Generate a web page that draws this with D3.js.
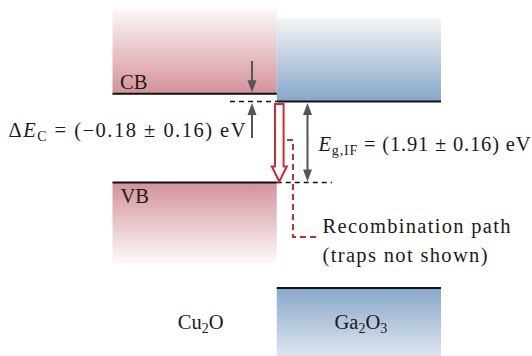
<!DOCTYPE html>
<html>
<head>
<meta charset="utf-8">
<script src="https://cdn.jsdelivr.net/npm/d3@7"></script>
<style>
  body { margin: 0; background: #fff; }
  text { font-family: "Liberation Serif", "Times New Roman", serif; fill: #1a1a1a; }
</style>
</head>
<body>
<div id="chart"></div>
<script>
// band edges in eV, relative to the Ga2O3 conduction band at the interface
var materials = ["Cu2O", "Ga2O3"];
var cbEdge = [0.18, 0];
var vbEdge = [-1.91, -4.40];
// how far the shaded blocks reach (schematic)
var cbTop = [2.17, 1.96];
var vbBottom = [-3.81, -6.3];
var bandNames = ["CB", "VB"];
var offsetLabel = ["(−0.18 ± 0.16) eV"];
var gapLabel = ["(1.91 ± 0.16) eV"];
var pathLabel = ["Recombination path", "(traps not shown)"];

var svgWidth = 532;
var svgHeight = 356;

var svg = d3.select("#chart")
  .append("svg")
  .attr("width", svgWidth)
  .attr("height", svgHeight);

// scales
var x = d3.scaleBand()
  .domain(materials)
  .range([112.5, 441])
  .padding(0);

var y = d3.scaleLinear()
  .domain([0, -1.91])
  .range([101.5, 182.5]);

var junction = x("Ga2O3");

// gradients
var defs = svg.append("defs");
function grad(id, c0, c1) {
  var g = defs.append("linearGradient")
    .attr("id", id)
    .attr("x1", 0).attr("y1", 0)
    .attr("x2", 0).attr("y2", 1);
  g.append("stop").attr("offset", "0%").attr("stop-color", c0);
  g.append("stop").attr("offset", "100%").attr("stop-color", c1);
}
grad("cbRed", "#fcf6f6", "#d3929a");
grad("vbRed", "#d3929a", "#fdf9f9");
grad("cbBlue", "#f4f4f4", "#86a6c9");
grad("vbBlue", "#88a8ca", "#eef0f4");

var cbFill = ["url(#cbRed)", "url(#cbBlue)"];
var vbFill = ["url(#vbRed)", "url(#vbBlue)"];

// conduction band blocks
svg.selectAll(".cb")
  .data(materials)
  .enter()
  .append("rect")
  .attr("class", "cb")
  .attr("x", d => x(d))
  .attr("width", x.bandwidth())
  .attr("y", (d, i) => y(cbTop[i]))
  .attr("height", (d, i) => y(cbEdge[i]) - y(cbTop[i]))
  .attr("fill", (d, i) => cbFill[i]);

// valence band blocks
svg.selectAll(".vb")
  .data(materials)
  .enter()
  .append("rect")
  .attr("class", "vb")
  .attr("x", d => x(d))
  .attr("width", x.bandwidth())
  .attr("y", (d, i) => y(vbEdge[i]))
  .attr("height", (d, i) => y(vbBottom[i]) - y(vbEdge[i]))
  .attr("fill", (d, i) => vbFill[i]);

// band edge lines
svg.selectAll(".cbline")
  .data(materials)
  .enter()
  .append("line")
  .attr("x1", d => x(d))
  .attr("x2", d => x(d) + x.bandwidth())
  .attr("y1", (d, i) => y(cbEdge[i]))
  .attr("y2", (d, i) => y(cbEdge[i]))
  .attr("stroke", "#111")
  .attr("stroke-width", 2);

svg.selectAll(".vbline")
  .data(materials)
  .enter()
  .append("line")
  .attr("x1", d => x(d))
  .attr("x2", d => x(d) + x.bandwidth())
  .attr("y1", (d, i) => y(vbEdge[i]))
  .attr("y2", (d, i) => y(vbEdge[i]))
  .attr("stroke", "#111")
  .attr("stroke-width", 2);

// dashed extensions
svg.append("line")
  .attr("x1", 230).attr("x2", junction)
  .attr("y1", y(cbEdge[1])).attr("y2", y(cbEdge[1]))
  .attr("stroke", "#111").attr("stroke-width", 1.6)
  .attr("stroke-dasharray", "5,4");
svg.append("line")
  .attr("x1", junction).attr("x2", 332)
  .attr("y1", y(vbEdge[0])).attr("y2", y(vbEdge[0]))
  .attr("stroke", "#111").attr("stroke-width", 1.6)
  .attr("stroke-dasharray", "5,4");

// grey arrows
var grey = "#555";
function arrowHead(xp, tipY, dir) {
  // dir = 1 points down, -1 points up
  svg.append("path")
    .attr("d", `M${xp},${tipY} L${xp - 4.5},${tipY - dir * 12} L${xp + 4.5},${tipY - dir * 12} Z`)
    .attr("fill", grey);
}
var offX = 252;
svg.append("line")
  .attr("x1", offX).attr("x2", offX)
  .attr("y1", 61).attr("y2", y(cbEdge[0]) - 8)
  .attr("stroke", grey).attr("stroke-width", 2);
arrowHead(offX, y(cbEdge[0]) - 1.5, 1);
svg.append("line")
  .attr("x1", offX).attr("x2", offX)
  .attr("y1", 138).attr("y2", y(cbEdge[1]) + 8)
  .attr("stroke", grey).attr("stroke-width", 2);
arrowHead(offX, y(cbEdge[1]) + 1.5, -1);

var gapX = 307.5;
svg.append("line")
  .attr("x1", gapX).attr("x2", gapX)
  .attr("y1", y(cbEdge[1]) + 8).attr("y2", y(vbEdge[0]) - 8)
  .attr("stroke", grey).attr("stroke-width", 2);
arrowHead(gapX, y(cbEdge[1]) + 1.5, -1);
arrowHead(gapX, y(vbEdge[0]) - 1, 1);

// red hollow arrow (recombination)
var red = "#c62d35";
var ax = 279.3,
    shaftTop = y(cbEdge[1]) + 2.5,
    tipY = y(vbEdge[0]) - 1,
    headY = tipY - 15;
svg.append("path")
  .attr("d", `M${ax - 4.3},${shaftTop} L${ax + 4.3},${shaftTop} L${ax + 4.3},${headY} L${ax + 7.5},${headY}
              L${ax},${tipY} L${ax - 7.5},${headY} L${ax - 4.3},${headY} Z`)
  .attr("fill", "#fff")
  .attr("stroke", red)
  .attr("stroke-width", 2)
  .attr("stroke-linejoin", "miter");

// red dashed path
svg.append("path")
  .attr("d", "M287,140 L293,140 L293,237 L318,237")
  .attr("fill", "none")
  .attr("stroke", red)
  .attr("stroke-width", 2)
  .attr("stroke-dasharray", "6,4");

// text helpers
var fs = 20.5;
var sub = 14;
function fitText(sel, w) {
  sel.attr("textLength", w).attr("lengthAdjust", "spacing");
  return sel;
}

// band labels
svg.append("text").attr("x", 120).attr("y", 88.5)
  .style("font-size", fs + "px").text(bandNames[0]);
svg.append("text").attr("x", 120.5).attr("y", 203)
  .style("font-size", fs + "px").text(bandNames[1]);

// delta Ec label
var t1 = svg.append("text").attr("x", 8.5).attr("y", 137).style("font-size", fs + "px");
t1.append("tspan").text("Δ");
t1.append("tspan").style("font-style", "italic").text("E");
t1.append("tspan").attr("dy", 4).style("font-size", sub + "px").text("C");
t1.append("tspan").attr("dy", -4).text(" = " + offsetLabel[0]);
fitText(t1, 237);

// gap label
var t2 = svg.append("text").attr("x", 318.5).attr("y", 151).style("font-size", fs + "px");
t2.append("tspan").style("font-style", "italic").text("E");
t2.append("tspan").attr("dy", 4).style("font-size", sub + "px").text("g,IF");
t2.append("tspan").attr("dy", -4).text(" = " + gapLabel[0]);
fitText(t2, 212);

// recombination labels
fitText(svg.append("text").attr("x", 322.5).attr("y", 233)
  .style("font-size", fs + "px").text(pathLabel[0]), 188);
fitText(svg.append("text").attr("x", 322.5).attr("y", 262)
  .style("font-size", fs + "px").text(pathLabel[1]), 165);

// material names
function matLabel(xc, yb, parts) {
  var t = svg.append("text").attr("x", xc).attr("y", yb)
    .attr("text-anchor", "middle").style("font-size", fs + "px");
  parts.forEach(function(p) {
    if (p.sub) {
      t.append("tspan").attr("dy", 4).style("font-size", sub + "px").text(p.s);
    } else {
      t.append("tspan").attr("dy", p.back ? -4 : 0).text(p.s);
    }
  });
  return t;
}
matLabel(x("Cu2O") + x.bandwidth() / 2 + 6, 329,
  [{s: "Cu"}, {s: "2", sub: true}, {s: "O", back: true}]);
matLabel(x("Ga2O3") + x.bandwidth() / 2 + 2, 329,
  [{s: "Ga"}, {s: "2", sub: true}, {s: "O", back: true}, {s: "3", sub: true}]);
</script>
</body>
</html>
